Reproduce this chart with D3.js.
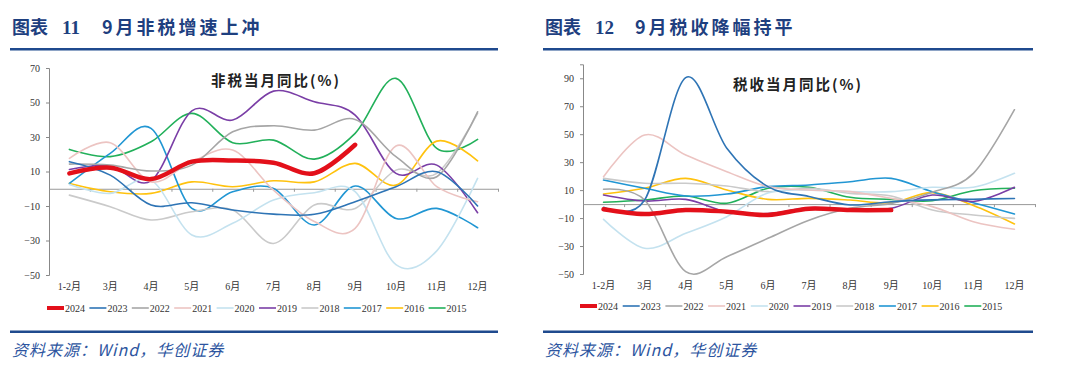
<!DOCTYPE html>
<html>
<head>
<meta charset="utf-8">
<script src="https://cdn.jsdelivr.net/npm/d3@7"></script>
<style>
  body { margin: 0; background: #fff; }
  svg { display: block; }
  .tick text { font-family: "Liberation Serif", "Noto Sans CJK SC", serif; fill: #333; }
</style>
</head>
<body>
<svg id="chart" width="1080" height="379"></svg>
<script>
const months = ['1-2月', '3月', '4月', '5月', '6月', '7月', '8月', '9月', '10月', '11月', '12月'];
const years = ['2024', '2023', '2022', '2021', '2020', '2019', '2018', '2017', '2016', '2015'];
const colors = ['#e3101a', '#2e74b5', '#a6a6a6', '#ecc4c2', '#c4e2ef', '#7a3ea6', '#cacaca', '#2196d3', '#ffc20e', '#22b05a'];

// 非税当月同比(%)
const nonTax2024 = [8.9, 12.2, 5.6, 15.7, 16.4, 15.1, 9, 25.5];
const nonTax2023 = [15.7, 7.9, -9.4, -8.1, -12.3, -14.7, -14.8, -7.5, 1.2, 9.9, -10];
const nonTax2022 = [14.3, 13.7, 10.3, 13.7, 33, 36.5, 34, 40.2, 18.6, 7, 44.6];
const nonTax2021 = [17.6, 26.7, 4, 15.7, 22.4, -0.8, -19, -23, 24.8, 1.2, -7.5];
const nonTax2020 = [2.5, -2.7, 5, -26.8, -20, -6.5, -2.3, -1.7, -44, -36, 6];
const nonTax2019 = [11.2, 13.2, 4.6, 45.2, 39.8, 56.6, 50.4, 42.7, 8.9, 13.7, -13.9];
const nonTax2018 = [-3.7, -10.4, -18.1, -13.3, -12.3, -31.7, -9.4, -11.4, 10.8, 8.9, 43.7];
const nonTax2017 = [3.1, 20.5, 35, -11.4, -1.7, 0.2, -21, 1.6, -17.2, -11.4, -22.6];
const nonTax2016 = [3.1, -1.7, -2.7, 4, 1.2, 4.6, 4, 14.7, 2.1, 27.6, 16.2];
const nonTax2015 = [22.8, 18.6, 27.2, 43.7, 26.7, 28.2, 17.2, 32.1, 64, 23.4, 28.6];

// 税收当月同比(%)
const tax2024 = [-3.7, -7.1, -4.2, -5.4, -7.8, -3.3, -4.3, -4.3];
const tax2023 = [-2.3, 2.9, 90.5, 40, 12.5, 5.5, -0.6, 1.7, 3, 3.5, 4];
const tax2022 = [10.6, 2.9, -48.3, -37.6, -24.5, -11.5, -3, 0.5, 8.4, 22, 67.5];
const tax2021 = [19.6, 49.4, 35.1, 23.2, 12.5, 10.1, 8.9, 4.1, -1.8, -12.6, -18];
const tax2020 = [-10.9, -31.6, -20.9, -9, 8, 10, 9, 8.9, 12, 12, 22];
const tax2019 = [6.5, 2.2, 3.4, -5.4, -6.8, -2.6, -4, -3, 6.5, 1.9, 12];
const tax2018 = [18.4, 14.9, 14.9, 12.9, 8.9, 11.3, 7.7, 5.8, -4.2, -7.8, -10.2];
const tax2017 = [17.2, 11.3, 5.8, 7.2, 12.5, 13.7, 16, 18.4, 8.9, 1, -7.1];
const tax2016 = [7.2, 11.3, 18.4, 10.1, 3.4, 4.1, 2.9, 1, 8.2, -1, -14.2];
const tax2015 = [1.3, 2.9, 5.8, 0.6, 11.3, 12, 4.9, 3.4, 2.4, 9.6, 11.3];

const leftTicks = [70, 50, 30, 10, -10, -30, -50];
const rightTicks = [90, 70, 50, 30, 10, -10, -30, -50];

const svg = d3.select('#chart');
const serif = '"Liberation Serif", "Noto Sans CJK SC", serif';
const navy = '#1e3f7f';

function panel (opt) {
  const g = svg.append('g');
  const x = d3.scaleBand().domain(months).range([opt.x0, opt.x1]);
  const xb = d3.scaleLinear().domain([0, months.length]).range([opt.x0, opt.x1]);
  const y = d3.scaleLinear().domain(opt.domain).range([opt.y1, opt.y0]);

  // header
  g.append('text').attr('x', opt.left + 2).attr('y', 34).text('图表')
    .attr('font-family', '"Noto Sans CJK SC"').attr('font-weight', 700).attr('font-size', 18).attr('fill', navy);
  g.append('text').attr('x', opt.left + 52).attr('y', 34).text(opt.num)
    .attr('font-family', serif).attr('font-weight', 700).attr('font-size', 19).attr('fill', navy);
  g.append('text').attr('x', opt.left + 92).attr('y', 34).text(opt.title)
    .attr('font-family', '"Noto Sans CJK SC"').attr('font-weight', 700).attr('font-size', 18).attr('fill', navy)
    .attr('letter-spacing', 3);
  g.append('rect').attr('x', opt.left).attr('y', 48).attr('width', opt.width).attr('height', 2.5).attr('fill', '#1f4a8e');
  g.append('rect').attr('x', opt.left).attr('y', 330.5).attr('width', opt.width).attr('height', 2.5).attr('fill', '#1f4a8e');
  g.append('text').attr('x', opt.left + 2).attr('y', 356).text('资料来源：Wind，华创证券')
    .attr('font-family', '"Noto Sans CJK SC"').attr('font-style', 'italic').attr('font-size', 16).attr('fill', '#2d55a0')
    .attr('letter-spacing', 1);

  // inner title
  g.append('text').attr('x', opt.tx).attr('y', opt.ty).text(opt.inner)
    .attr('font-family', '"Noto Sans CJK SC"').attr('font-weight', 700).attr('font-size', 14.5)
    .attr('letter-spacing', 2).attr('fill', '#222');

  // y axis
  const ya = g.append('g').attr('transform', `translate(${opt.x0},0)`)
    .call(d3.axisLeft(y).tickValues(opt.ticks).tickSize(3).tickPadding(6));
  ya.selectAll('text').attr('font-size', 10);
  ya.selectAll('path, line').attr('stroke', '#888');

  // zero axis with boundary ticks
  const za = g.append('g').attr('transform', `translate(0,${y(0)})`)
    .call(d3.axisBottom(xb).tickValues(d3.range(1, months.length + 1)).tickSize(3).tickFormat('').tickSizeOuter(0));
  za.selectAll('path, line').attr('stroke', '#999');

  // month labels
  const xa = g.append('g').attr('transform', `translate(0,${opt.y1 + 2})`)
    .call(d3.axisBottom(x).tickSize(0).tickPadding(6));
  xa.select('.domain').remove();
  xa.selectAll('text').attr('font-size', 10);

  const line = d3.line()
    .x((d, i) => x(months[i]) + x.bandwidth() / 2)
    .y(d => y(d))
    .curve(d3.curveCardinal.tension(0));

  const series = opt.series.map((vals, i) => ({ year: years[i], vals, color: colors[i] }));
  g.append('g').selectAll('path')
    .data(series.slice().reverse())
    .join('path')
    .attr('d', d => line(d.vals))
    .attr('fill', 'none')
    .attr('stroke', d => d.color)
    .attr('stroke-width', d => d.year === '2024' ? 4.5 : 1.6)
    .attr('stroke-linecap', 'round');

  // legend
  const lg = g.append('g').attr('transform', `translate(${opt.lx},${opt.ly})`);
  const item = lg.selectAll('g').data(series).join('g')
    .attr('transform', (d, i) => `translate(${i * opt.lstep},0)`);
  item.append('line').attr('x1', 0).attr('x2', 17).attr('y1', 0).attr('y2', 0)
    .attr('stroke', d => d.color).attr('stroke-width', d => d.year === '2024' ? 4 : 1.6);
  item.append('text').attr('x', 18).attr('y', 3.5).text(d => d.year)
    .attr('font-family', serif).attr('font-size', 10).attr('fill', '#333');
}

panel({
  left: 10, width: 488, num: '11', title: '9月非税增速上冲',
  x0: 49, x1: 498, y0: 68, y1: 275, domain: [-50, 70], ticks: leftTicks,
  inner: '非税当月同比(%)', tx: 211, ty: 86,
  lx: 47, ly: 308, lstep: 42.4,
  series: [nonTax2024, nonTax2023, nonTax2022, nonTax2021, nonTax2020, nonTax2019, nonTax2018, nonTax2017, nonTax2016, nonTax2015]
});

panel({
  left: 543, width: 490, num: '12', title: '9月税收降幅持平',
  x0: 583, x1: 1035, y0: 64.3, y1: 274, domain: [-50, 100], ticks: rightTicks,
  inner: '税收当月同比(%)', tx: 733, ty: 90,
  lx: 580, ly: 306, lstep: 42.7,
  series: [tax2024, tax2023, tax2022, tax2021, tax2020, tax2019, tax2018, tax2017, tax2016, tax2015]
});
</script>
</body>
</html>
